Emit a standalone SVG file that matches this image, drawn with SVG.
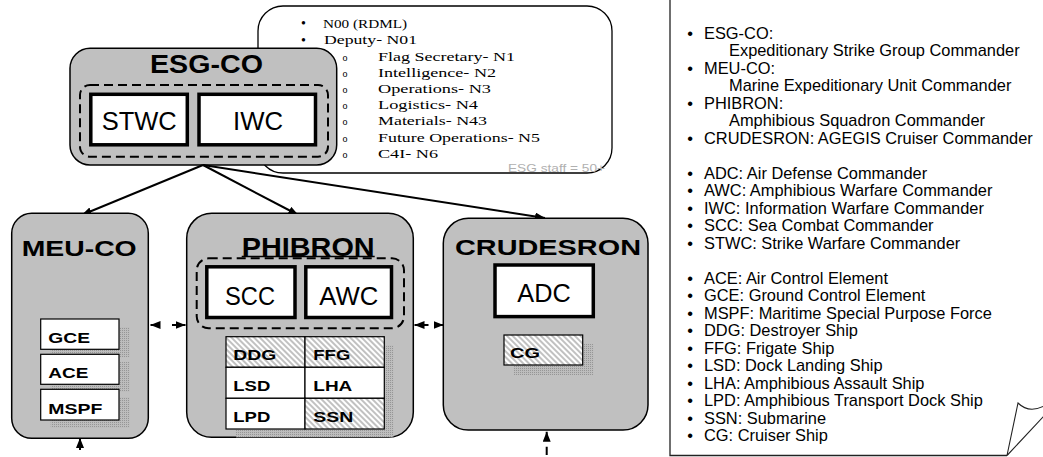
<svg xmlns="http://www.w3.org/2000/svg" width="1043" height="457" viewBox="0 0 1043 457">
  <style>
    .grp { fill: #c0c0c0; stroke: #000; stroke-width: 1.5; }
    .dash { fill: none; stroke: #000; stroke-width: 2; stroke-dasharray: 9 5; }
    .role { fill: #fff; stroke: #000; stroke-width: 3.5; }
    .cell { fill: #fff; stroke: #000; stroke-width: 1.2; }
    .hcell { fill: url(#hatch); stroke: #000; stroke-width: 1.2; }
    .shadow { fill: url(#shade); }
    .title { font-family: "Liberation Sans", Arial, sans-serif; font-weight: bold; fill: #000; }
    .rtxt { font-family: "Liberation Sans", Arial, sans-serif; font-size: 26px; fill: #000; }
    .stxt { font-family: "Liberation Sans", Arial, sans-serif; font-weight: bold; font-size: 15.5px; fill: #000; }
    .serif { font-family: "Liberation Serif", "Times New Roman", serif; font-size: 13.5px; fill: #000; }
    .leg { font-family: "Liberation Sans", Arial, sans-serif; font-size: 16.4px; fill: #000; }
    .link { fill: none; stroke: #000; stroke-width: 2; }
  </style>
  <defs>
    <marker id="ah" viewBox="0 0 10 8" refX="10" refY="4" markerWidth="10" markerHeight="8" markerUnits="userSpaceOnUse" orient="auto-start-reverse">
      <path d="M0,0 L10,4 L0,8 Z" fill="#000"/>
    </marker>
    <pattern id="shade" width="2" height="2" patternUnits="userSpaceOnUse">
      <rect width="2" height="2" fill="#bdbdbd"/>
      <rect width="1" height="1" fill="#969696"/>
    </pattern>
    <pattern id="hatch" width="4" height="4" patternUnits="userSpaceOnUse" patternTransform="rotate(-45)">
      <rect width="4" height="4" fill="#fff"/>
      <line x1="1" y1="0" x2="1" y2="4" stroke="#a0a0a0" stroke-width="1.3"/>
    </pattern>
  </defs>

  <rect width="1043" height="457" fill="#fff"/>

  <!-- ESG staff call-out -->
  <g id="staff">
    <rect x="258" y="6" width="354" height="167" rx="25" ry="25" fill="#fff" stroke="#000" stroke-width="1.3"/>
    <g class="serif">
      <text x="303.5" y="28.4" text-anchor="middle" font-size="14">•</text>
      <text x="323" y="28.2" textLength="84" lengthAdjust="spacingAndGlyphs">N00 (RDML)</text>
      <text x="303.5" y="44.6" text-anchor="middle" font-size="14">•</text>
      <text x="324" y="44.4" textLength="93" lengthAdjust="spacingAndGlyphs">Deputy- N01</text>
      <g font-size="10">
        <text x="345" y="60.6" text-anchor="middle">o</text>
        <text x="345" y="76.8" text-anchor="middle">o</text>
        <text x="345" y="93" text-anchor="middle">o</text>
        <text x="345" y="109.2" text-anchor="middle">o</text>
        <text x="345" y="125.4" text-anchor="middle">o</text>
        <text x="345" y="141.6" text-anchor="middle">o</text>
        <text x="345" y="157.8" text-anchor="middle">o</text>
      </g>
      <text x="378" y="60.6" textLength="137" lengthAdjust="spacingAndGlyphs">Flag Secretary- N1</text>
      <text x="378" y="76.8" textLength="118" lengthAdjust="spacingAndGlyphs">Intelligence- N2</text>
      <text x="378" y="93" textLength="113" lengthAdjust="spacingAndGlyphs">Operations- N3</text>
      <text x="378" y="109.2" textLength="100" lengthAdjust="spacingAndGlyphs">Logistics- N4</text>
      <text x="378" y="125.4" textLength="109" lengthAdjust="spacingAndGlyphs">Materials- N43</text>
      <text x="378" y="141.6" textLength="162" lengthAdjust="spacingAndGlyphs">Future Operations- N5</text>
      <text x="378" y="157.8" textLength="60" lengthAdjust="spacingAndGlyphs">C4I- N6</text>
    </g>
    <text x="508" y="171.5" font-family="Liberation Sans, Arial, sans-serif" font-size="11.5" fill="#b0b0b0" textLength="97" lengthAdjust="spacingAndGlyphs">ESG staff = 50+</text>
  </g>

  <!-- Expeditionary Strike Group commander -->
  <g id="esg-co">
    <rect class="grp" x="70" y="48.3" width="266.7" height="116.7" rx="20"/>
    <text class="title" x="150" y="72.7" font-size="25" textLength="113" lengthAdjust="spacingAndGlyphs">ESG-CO</text>
    <rect class="dash" x="80" y="85" width="248" height="71.7" rx="10"/>
    <g id="stwc">
      <rect class="role" x="90.8" y="94.3" width="96.5" height="50.5"/>
      <text class="rtxt" x="101.7" y="130" textLength="75" lengthAdjust="spacingAndGlyphs">STWC</text>
    </g>
    <g id="iwc">
      <rect class="role" x="199" y="94.3" width="116.5" height="50.5"/>
      <text class="rtxt" x="233" y="130" textLength="50" lengthAdjust="spacingAndGlyphs">IWC</text>
    </g>
  </g>

  <!-- Connectors -->
  <g id="connectors">
    <path class="link" d="M203,165 L81.7,215" marker-end="url(#ah)"/>
    <path class="link" d="M203,165 L298.3,215" marker-end="url(#ah)"/>
    <path class="link" d="M203,165 L545,218" marker-end="url(#ah)"/>
    <path class="link" d="M150.5,325 L185.5,325" stroke-dasharray="7.5 14 13.5" marker-start="url(#ah)" marker-end="url(#ah)"/>
    <path class="link" d="M414.5,325 L443.5,325" stroke-dasharray="14 6.5 8.5" marker-start="url(#ah)" marker-end="url(#ah)"/>
    <path class="link" d="M80,438 L80,470" stroke-dasharray="12 20" marker-start="url(#ah)"/>
    <path class="link" d="M546.7,431.7 L546.7,470" stroke-dasharray="8.3 6.7" marker-start="url(#ah)"/>
  </g>

  <!-- Marine Expeditionary Unit commander -->
  <g id="meu-co">
    <rect class="grp" x="11.7" y="213.3" width="136.6" height="225" rx="20"/>
    <text class="title" x="21.7" y="255.7" font-size="22.5" textLength="115" lengthAdjust="spacingAndGlyphs">MEU-CO</text>
    <g id="gce">
      <rect class="shadow" x="50.7" y="327" width="79" height="30"/>
      <rect class="cell" x="40.7" y="319" width="78.3" height="30.3"/>
      <text class="stxt" x="48.3" y="342.7" textLength="41.7" lengthAdjust="spacingAndGlyphs">GCE</text>
    </g>
    <g id="ace">
      <rect class="shadow" x="50.7" y="362" width="79" height="30"/>
      <rect class="cell" x="40.7" y="354.3" width="78.3" height="30"/>
      <text class="stxt" x="48.3" y="378.3" textLength="40" lengthAdjust="spacingAndGlyphs">ACE</text>
    </g>
    <g id="mspf">
      <rect class="shadow" x="50.7" y="397" width="79" height="31"/>
      <rect class="cell" x="40.7" y="389.3" width="78.3" height="30.7"/>
      <text class="stxt" x="48.3" y="414" textLength="54" lengthAdjust="spacingAndGlyphs">MSPF</text>
    </g>
  </g>

  <!-- Amphibious Squadron commander -->
  <g id="phibron">
    <rect class="grp" x="186.7" y="213.3" width="226.6" height="224" rx="25"/>
    <text class="title" x="241.7" y="255.7" font-size="25" textLength="133" lengthAdjust="spacingAndGlyphs">PHIBRON</text>
    <line x1="241.7" y1="256.5" x2="374.7" y2="256.5" stroke="#000" stroke-width="1.5"/>
    <rect class="dash" x="196.7" y="258.3" width="207.3" height="70" rx="12"/>
    <g id="scc">
      <rect class="role" x="206.8" y="266.8" width="88.2" height="50.7"/>
      <text class="rtxt" x="225" y="305" textLength="50" lengthAdjust="spacingAndGlyphs">SCC</text>
    </g>
    <g id="awc">
      <rect class="role" x="305.8" y="266.8" width="85.7" height="50.7"/>
      <text class="rtxt" x="319.3" y="305" textLength="59" lengthAdjust="spacingAndGlyphs">AWC</text>
    </g>
    <g id="ships">
      <rect class="shadow" x="236" y="345" width="157.3" height="92.3"/>
      <rect class="hcell" x="226" y="336.7" width="79" height="30.6"/>
      <rect class="hcell" x="305" y="336.7" width="79.3" height="30.6"/>
      <rect class="cell" x="226" y="367.3" width="79" height="31"/>
      <rect class="cell" x="305" y="367.3" width="79.3" height="31"/>
      <rect class="cell" x="226" y="398.3" width="79" height="30.7"/>
      <rect class="hcell" x="305" y="398.3" width="79.3" height="30.7"/>
      <text class="stxt" x="233.3" y="360" textLength="43" lengthAdjust="spacingAndGlyphs">DDG</text>
      <text class="stxt" x="313.3" y="360" textLength="37" lengthAdjust="spacingAndGlyphs">FFG</text>
      <text class="stxt" x="233.3" y="390.5" textLength="37" lengthAdjust="spacingAndGlyphs">LSD</text>
      <text class="stxt" x="313.3" y="390.5" textLength="39" lengthAdjust="spacingAndGlyphs">LHA</text>
      <text class="stxt" x="233.3" y="421.7" textLength="37" lengthAdjust="spacingAndGlyphs">LPD</text>
      <text class="stxt" x="313.3" y="421.7" textLength="40" lengthAdjust="spacingAndGlyphs">SSN</text>
    </g>
  </g>

  <!-- Cruiser-Destroyer Squadron commander -->
  <g id="crudesron">
    <rect class="grp" x="443.3" y="218.3" width="204.7" height="211.7" rx="25"/>
    <text class="title" x="455" y="255" font-size="22" textLength="186" lengthAdjust="spacingAndGlyphs">CRUDESRON</text>
    <g id="adc">
      <rect class="role" x="495" y="265" width="98.3" height="51.6"/>
      <text class="rtxt" x="517.3" y="301.7" textLength="53.4" lengthAdjust="spacingAndGlyphs">ADC</text>
    </g>
    <g id="cg">
      <rect class="shadow" x="514" y="344" width="79.3" height="31"/>
      <rect class="hcell" x="504" y="335" width="78.7" height="30"/>
      <text class="stxt" x="510" y="358.3" textLength="30" lengthAdjust="spacingAndGlyphs">CG</text>
    </g>
  </g>

  <!-- Abbreviation legend sheet -->
  <g id="legend">
    <path d="M670,-2 V455.5 H1007" fill="none" stroke="#222" stroke-width="1.3"/>
    <path d="M1007,455.5 L1018,403 C1025,410 1034,411 1044,406 M1007,455.5 L1044,416" fill="none" stroke="#222" stroke-width="1.1"/>
    <g class="leg">
      <text x="690" y="38.5" text-anchor="middle">•</text><text x="704" y="38.5">ESG-CO:</text>
      <text x="729" y="56">Expeditionary Strike Group Commander</text>
      <text x="690" y="73.5" text-anchor="middle">•</text><text x="704" y="73.5">MEU-CO:</text>
      <text x="729" y="91">Marine Expeditionary Unit Commander</text>
      <text x="690" y="108.5" text-anchor="middle">•</text><text x="704" y="108.5">PHIBRON:</text>
      <text x="729" y="126">Amphibious Squadron Commander</text>
      <text x="690" y="143.5" text-anchor="middle">•</text><text x="704" y="143.5">CRUDESRON: AGEGIS Cruiser Commander</text>

      <text x="690" y="178.5" text-anchor="middle">•</text><text x="704" y="178.5">ADC: Air Defense Commander</text>
      <text x="690" y="196" text-anchor="middle">•</text><text x="704" y="196">AWC: Amphibious Warfare Commander</text>
      <text x="690" y="213.5" text-anchor="middle">•</text><text x="704" y="213.5">IWC: Information Warfare Commander</text>
      <text x="690" y="231" text-anchor="middle">•</text><text x="704" y="231">SCC: Sea Combat Commander</text>
      <text x="690" y="248.5" text-anchor="middle">•</text><text x="704" y="248.5">STWC: Strike Warfare Commander</text>

      <text x="690" y="283.5" text-anchor="middle">•</text><text x="704" y="283.5">ACE: Air Control Element</text>
      <text x="690" y="301" text-anchor="middle">•</text><text x="704" y="301">GCE: Ground Control Element</text>
      <text x="690" y="318.5" text-anchor="middle">•</text><text x="704" y="318.5">MSPF: Maritime Special Purpose Force</text>
      <text x="690" y="336" text-anchor="middle">•</text><text x="704" y="336">DDG: Destroyer Ship</text>
      <text x="690" y="353.5" text-anchor="middle">•</text><text x="704" y="353.5">FFG: Frigate Ship</text>
      <text x="690" y="371" text-anchor="middle">•</text><text x="704" y="371">LSD: Dock Landing Ship</text>
      <text x="690" y="388.5" text-anchor="middle">•</text><text x="704" y="388.5">LHA: Amphibious Assault Ship</text>
      <text x="690" y="406" text-anchor="middle">•</text><text x="704" y="406">LPD: Amphibious Transport Dock Ship</text>
      <text x="690" y="423.5" text-anchor="middle">•</text><text x="704" y="423.5">SSN: Submarine</text>
      <text x="690" y="441" text-anchor="middle">•</text><text x="704" y="441">CG: Cruiser Ship</text>
    </g>
  </g>
</svg>
